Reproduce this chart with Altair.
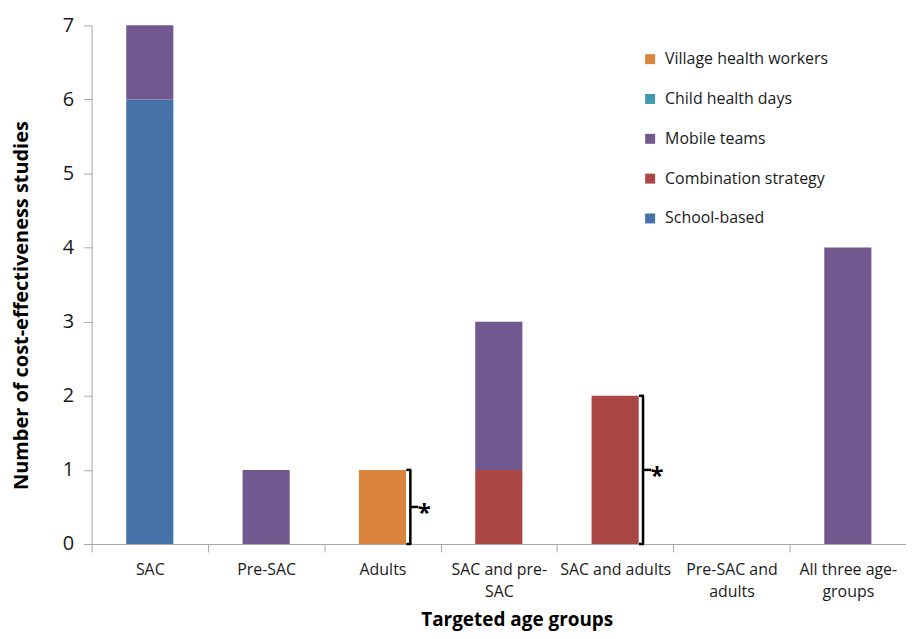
import json
import altair as alt
import pandas as pd

# ---- data ----
categories = ["SAC", "Pre-SAC", "Adults", "SAC and pre-SAC", "SAC and adults",
              "Pre-SAC and adults", "All three age-groups"]
label_lines = [["SAC"], ["Pre-SAC"], ["Adults"], ["SAC and pre-", "SAC"],
               ["SAC and adults"], ["Pre-SAC and", "adults"], ["All three age-", "groups"]]

legend_order = ["Village health workers", "Child health days", "Mobile teams",
                "Combination strategy", "School-based"]
legend_colors = ["#DB843D", "#4198AF", "#71588F", "#AA4643", "#4572A7"]
stack_order = ["School-based", "Combination strategy", "Mobile teams",
               "Child health days", "Village health workers"]

school_based = [6, 0, 0, 0, 0, 0, 0]
combination = [0, 0, 0, 1, 2, 0, 0]
mobile_teams = [1, 1, 0, 2, 0, 0, 4]
child_health_days = [0, 0, 0, 0, 0, 0, 0]
village_workers = [0, 0, 1, 0, 0, 0, 0]

bracket_groups = ["Adults", "SAC and adults"]
bracket_low = [0, 0]
bracket_high = [1, 2]

series = {
    "School-based": school_based,
    "Combination strategy": combination,
    "Mobile teams": mobile_teams,
    "Child health days": child_health_days,
    "Village health workers": village_workers,
}
rows = []
for s, vals in series.items():
    for c, v in zip(categories, vals):
        rows.append({"group": c, "strategy": s, "count": v, "ord": stack_order.index(s)})
df = pd.DataFrame(rows)

bdf = pd.DataFrame({"group": bracket_groups, "lo": bracket_low, "hi": bracket_high})

FONT = "Open Sans"
YTITLE = "Number of cost-effectiveness  studies"
XTITLE = "Targeted age groups"
GRAY = "#A6A6A6"

label_map = json.dumps(dict(zip(categories, label_lines)))

x_axis = alt.Axis(
    title=XTITLE, labelAngle=0, labelExpr=f"{label_map}[datum.label]",
    labelFont=FONT, labelFontSize=16, labelColor="#1a1a1a", labelLineHeight=22,
    labelPadding=10, labelOverlap=False, labelLimit=0,
    tickBand="extent", tickSize=8, tickColor=GRAY, domainColor=GRAY,
    titleFont=FONT, titleFontWeight="bold", titleFontSize=19, titleColor="#000",
    titleX=427, titleY=76, titleBaseline="middle",
)
y_axis = alt.Axis(
    title=YTITLE, values=list(range(8)), format="d", grid=False,
    labelFont=FONT, labelFontSize=20, labelColor="#1a1a1a", labelPadding=10,
    tickSize=8, tickColor=GRAY, domainColor=GRAY,
    titleFont=FONT, titleFontWeight="bold", titleFontSize=20, titleColor="#000",
    titleX=-70, titleY=281, titleBaseline="middle", titleAngle=-90,
)

xs = alt.Scale(paddingInner=0, paddingOuter=0)
ys = alt.Scale(domain=[0, 7], nice=False)

bars = alt.Chart(df).mark_bar(width=alt.RelativeBandSize(0.405)).encode(
    x=alt.X("group:N", sort=categories, scale=xs, axis=x_axis),
    y=alt.Y("count:Q", scale=ys, axis=y_axis, stack="zero"),
    color=alt.Color("strategy:N", scale=alt.Scale(domain=legend_order, range=legend_colors),
                    legend=alt.Legend(title=None, orient="none", legendX=553, legendY=26,
                                      symbolType="square", symbolSize=100, symbolStrokeWidth=0,
                                      labelFont=FONT, labelFontSize=16, labelColor="#1a1a1a",
                                      labelLimit=0,
                                      rowPadding=24, labelOffset=7, padding=0)),
    order=alt.Order("ord:Q", sort="ascending"),
)

bx = alt.X("group:N", sort=categories, title=XTITLE)
base = alt.Chart(bdf).transform_calculate(mid="(datum.lo + datum.hi) / 2")

vert = base.mark_rule(color="black", strokeWidth=2.5, xOffset=28).encode(
    x=bx, y=alt.Y("lo:Q", title=YTITLE), y2="hi:Q")
top_cap = base.mark_rule(color="black", strokeWidth=2.5, xOffset=24, x2Offset=29).encode(
    x=bx, x2="group:N", y=alt.Y("hi:Q", title=YTITLE))
bot_cap = base.mark_rule(color="black", strokeWidth=2.5, xOffset=24, x2Offset=29).encode(
    x=bx, x2="group:N", y=alt.Y("lo:Q", title=YTITLE))
mid_tick = base.mark_rule(color="black", strokeWidth=2.5, xOffset=28, x2Offset=36).encode(
    x=bx, x2="group:N", y=alt.Y("mid:Q", title=YTITLE))
star = base.mark_text(text="*", dx=42, dy=7, fontSize=24, font=FONT, fontWeight="bold",
                      color="black").encode(x=bx, y=alt.Y("mid:Q", title=YTITLE))

chart = alt.layer(bars, vert, top_cap, bot_cap, mid_tick, star).properties(
    width=818, height=521,
    autosize=alt.AutoSizeParams(type="none"),
    padding={"left": 84, "top": 16, "right": 0, "bottom": 86},
    background="white",
).configure_view(stroke=None)

chart.save("out.html", embed_options={"renderer": "svg", "actions": False})
